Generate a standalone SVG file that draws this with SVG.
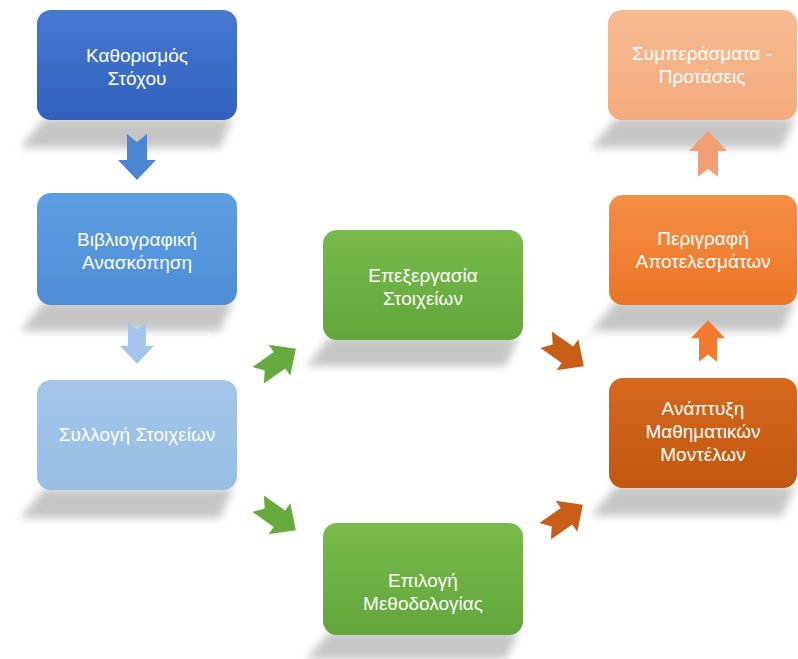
<svg xmlns="http://www.w3.org/2000/svg" width="798" height="659" viewBox="0 0 798 659">
<defs>
<style>
.lbl{font-family:"Liberation Sans",Arial,sans-serif;font-size:19px;fill:#ffffff;text-anchor:middle}
.shadow{fill:#8c8c8c;opacity:0.5;filter:url(#blur)}
</style>
<filter id="blur" x="-20%" y="-80%" width="140%" height="260%"><feGaussianBlur stdDeviation="4.5"/></filter>
<linearGradient id="g1" x1="0" y1="0" x2="0" y2="1"><stop offset="0" stop-color="#4679d2"/><stop offset="1" stop-color="#3161bd"/></linearGradient>
<linearGradient id="g2" x1="0" y1="0" x2="0" y2="1"><stop offset="0" stop-color="#5e9fe2"/><stop offset="1" stop-color="#4c8dd6"/></linearGradient>
<linearGradient id="g3" x1="0" y1="0" x2="0" y2="1"><stop offset="0" stop-color="#a3c6ea"/><stop offset="1" stop-color="#98bee6"/></linearGradient>
<linearGradient id="gg" x1="0" y1="0" x2="0" y2="1"><stop offset="0" stop-color="#78bb4c"/><stop offset="1" stop-color="#62a53a"/></linearGradient>
<linearGradient id="o1" x1="0" y1="0" x2="0" y2="1"><stop offset="0" stop-color="#f7bb92"/><stop offset="1" stop-color="#f3ab7e"/></linearGradient>
<linearGradient id="o2" x1="0" y1="0" x2="0" y2="1"><stop offset="0" stop-color="#f58e45"/><stop offset="1" stop-color="#ec7526"/></linearGradient>
<linearGradient id="o3" x1="0" y1="0" x2="0" y2="1"><stop offset="0" stop-color="#d5681d"/><stop offset="1" stop-color="#c2570f"/></linearGradient>
<path id="arrow" d="M-23,-10 L3,-10 L3,-19 L23,0 L3,19 L3,10 L-23,10 L-15,0 Z"/>
</defs>
<rect width="798" height="659" fill="#ffffff"/>

<g id="shadows">
<polygon class="shadow" points="45,118 233,118 220,148 20,148"/>
<polygon class="shadow" points="45,301 233,301 220,331 20,331"/>
<polygon class="shadow" points="45,488 233,488 220,518 20,518"/>
<polygon class="shadow" points="331,336 519,336 506,366 306,366"/>
<polygon class="shadow" points="331,631 519,631 506,659 306,659"/>
<polygon class="shadow" points="616,118 795,118 782,148 591,148"/>
<polygon class="shadow" points="616,301 795,301 782,331 591,331"/>
<polygon class="shadow" points="616,486 795,486 782,516 591,516"/>
</g>

<g id="connectors">
<use href="#arrow" fill="#4a86d2" transform="translate(137,157) rotate(90)"/>
<use href="#arrow" fill="#a5c6ec" transform="translate(137,343) rotate(90) scale(0.9)"/>
<use href="#arrow" fill="#66ab3e" transform="translate(277,362) rotate(-35)"/>
<use href="#arrow" fill="#66ab3e" transform="translate(277,517) rotate(35)"/>
<use href="#arrow" fill="#c95e18" transform="translate(565,353) rotate(35)"/>
<use href="#arrow" fill="#c95e18" transform="translate(564,518) rotate(-35)"/>
<use href="#arrow" fill="#f0a072" transform="translate(708,154) rotate(-90)"/>
<use href="#arrow" fill="#f07b2e" transform="translate(708,341) rotate(-90) scale(0.9)"/>
</g>

<g id="n1">
<rect x="37" y="10" width="200" height="110" rx="14" fill="url(#g1)"/>
<text class="lbl" x="137" y="62">Καθορισμός</text>
<text class="lbl" x="137" y="85">Στόχου</text>
</g>
<g id="n2">
<rect x="37" y="193" width="200" height="112" rx="14" fill="url(#g2)"/>
<text class="lbl" x="137" y="246">Βιβλιογραφική</text>
<text class="lbl" x="137" y="269">Ανασκόπηση</text>
</g>
<g id="n3">
<rect x="37" y="380" width="200" height="110" rx="14" fill="url(#g3)"/>
<text class="lbl" x="137" y="441">Συλλογή Στοιχείων</text>
</g>
<g id="n4">
<rect x="323" y="230" width="200" height="110" rx="14" fill="url(#gg)"/>
<text class="lbl" x="423" y="282">Επεξεργασία</text>
<text class="lbl" x="423" y="305">Στοιχείων</text>
</g>
<g id="n5">
<rect x="323" y="523" width="200" height="112" rx="14" fill="url(#gg)"/>
<text class="lbl" x="423" y="587">Επιλογή</text>
<text class="lbl" x="423" y="610">Μεθοδολογίας</text>
</g>
<g id="n6">
<rect x="608" y="10" width="189" height="110" rx="14" fill="url(#o1)"/>
<text class="lbl" x="702" y="60">Συμπεράσματα -</text>
<text class="lbl" x="702" y="83">Προτάσεις</text>
</g>
<g id="n7">
<rect x="609" y="195" width="188" height="110" rx="14" fill="url(#o2)"/>
<text class="lbl" x="703" y="245">Περιγραφή</text>
<text class="lbl" x="703" y="268">Αποτελεσμάτων</text>
</g>
<g id="n8">
<rect x="609" y="378" width="188" height="110" rx="14" fill="url(#o3)"/>
<text class="lbl" x="703" y="415">Ανάπτυξη</text>
<text class="lbl" x="703" y="438">Μαθηματικών</text>
<text class="lbl" x="703" y="461">Μοντέλων</text>
</g>
</svg>
